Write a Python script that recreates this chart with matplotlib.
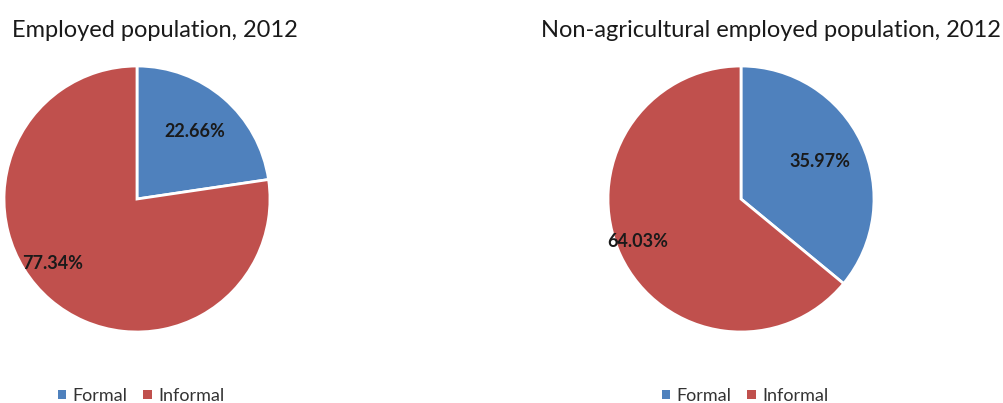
import matplotlib
matplotlib.use("Agg")
import matplotlib.pyplot as plt
from matplotlib.patches import Patch
import numpy as np

# Data
categories = ["Formal", "Informal"]
employed = [22.66, 77.34]
non_agri = [35.97, 64.03]
titles = ["Employed population, 2012", "Non-agricultural employed population, 2012"]

COLORS = ["#4F81BD", "#C0504D"]
FONT = ["Lato", "DejaVu Sans"]

plt.rcParams["font.family"] = FONT

W, H = 1004, 403
fig = plt.figure(figsize=(W / 100, H / 100), dpi=100)


def px_axes(cx, cy, r):
    # axes square around a pie centre given in pixels (y from top)
    return fig.add_axes([(cx - r) / W, 1 - (cy + r) / H, 2 * r / W, 2 * r / H])


def draw_pie(ax, values, label_dist, label_turn):
    wedges, _, autotexts = ax.pie(
        values, colors=COLORS, startangle=90, counterclock=False,
        autopct="%.2f%%", pctdistance=1.0,
        wedgeprops=dict(edgecolor="white", linewidth=2),
    )
    # Excel-like "best fit" label placement: nudge along / around the wedge
    for w, t, d, turn in zip(wedges, autotexts, label_dist, label_turn):
        ang = np.deg2rad((w.theta1 + w.theta2) / 2 + turn)
        t.set_position((d * np.cos(ang), d * np.sin(ang)))
        t.set_fontsize(13)
        t.set_fontweight("bold")
        t.set_color("#1a1a1a")
    ax.set_xlim(-1.0, 1.0)
    ax.set_ylim(-1.0, 1.0)
    ax.set_aspect("equal")
    ax.axis("off")
    return wedges


ax1 = px_axes(137, 199, 133)
draw_pie(ax1, employed, [0.67, 0.80], [0, -12])
ax2 = px_axes(741, 199, 133)
draw_pie(ax2, non_agri, [0.66, 0.84], [0, -3])

fig.text(12 / W, 1 - 37 / H, titles[0], fontsize=17, color="#1a1a1a", va="baseline")
fig.text(541 / W, 1 - 37 / H, titles[1], fontsize=17, color="#1a1a1a", va="baseline")

handles = [Patch(facecolor=c, edgecolor="none") for c in COLORS]
for cx in (141 / W, 745 / W):
    fig.legend(handles, categories, loc="center", bbox_to_anchor=(cx, 1 - 396 / H),
               ncol=2, frameon=False, fontsize=13, handlelength=0.45, handleheight=0.45,
               handletextpad=0.35, columnspacing=0.9, labelcolor="#333333")

fig.savefig("out.png", dpi=100, facecolor="white")
